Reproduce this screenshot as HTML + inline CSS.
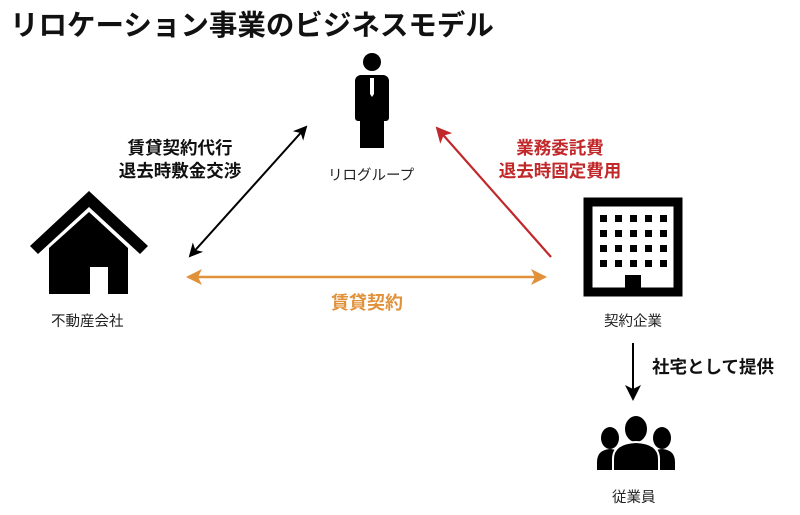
<!DOCTYPE html>
<html><head><meta charset="utf-8"><style>
html,body{margin:0;padding:0;background:#fff;}
body{width:800px;height:515px;position:relative;overflow:hidden;font-family:"Liberation Sans","Noto Sans CJK JP",sans-serif;}
.t{position:absolute;white-space:nowrap;}
</style></head><body>
<div class="t" style="left:10px;top:3px;font-size:28.5px;font-weight:bold;color:#111;">リロケーション事業のビジネスモデル</div>
<svg width="800" height="515" style="position:absolute;left:0;top:0">
<defs>
<marker id="ab" markerWidth="14" markerHeight="14" refX="12" refY="7" orient="auto" markerUnits="userSpaceOnUse"><path d="M0,0 L14,7 L0,14 L4,7z" fill="#000"/></marker>
<marker id="abs" markerWidth="14" markerHeight="14" refX="2" refY="7" orient="auto" markerUnits="userSpaceOnUse"><path d="M14,0 L0,7 L14,14 L10,7z" fill="#000"/></marker>
<marker id="ar" markerWidth="16" markerHeight="16" refX="14" refY="8" orient="auto" markerUnits="userSpaceOnUse"><path d="M0,0 L16,8 L0,16 L4,8z" fill="#c0282a"/></marker>
<marker id="ao" markerWidth="16" markerHeight="16" refX="14" refY="8" orient="auto" markerUnits="userSpaceOnUse"><path d="M0,0 L16,8 L0,16 L4,8z" fill="#e0913a"/></marker>
<marker id="aos" markerWidth="16" markerHeight="16" refX="2" refY="8" orient="auto" markerUnits="userSpaceOnUse"><path d="M16,0 L0,8 L16,16 L12,8z" fill="#e0913a"/></marker>
<marker id="ad" markerWidth="16" markerHeight="16" refX="14" refY="8" orient="auto" markerUnits="userSpaceOnUse"><path d="M0,0 L16,8 L0,16 L4,8z" fill="#000"/></marker>
</defs>
<!-- person -->
<circle cx="372" cy="62" r="9" fill="#000"/>
<path d="M361,75 h22 a6,6 0 0 1 6,6 v37 a3,3 0 0 1 -3,3 h-2 v27 h-24 v-27 h-2 a3,3 0 0 1 -3,-3 v-37 a6,6 0 0 1 6,-6z" fill="#000"/>
<path d="M370,78 h4 v16 l-2,3 l-2,-3z" fill="#fff"/>
<!-- house -->
<polygon points="89,191 148,246 140,254 89,207 38,254 30,246" fill="#000"/>
<polygon points="89,212 128,248 128,294 108,294 108,267 90,267 90,294 49,294 49,248" fill="#000"/>
<!-- building -->
<rect x="588" y="202" width="90" height="90" fill="none" stroke="#000" stroke-width="9"/>
<g fill="#000">
<rect x="600" y="215" width="7" height="7"/><rect x="615" y="215" width="7" height="7"/><rect x="630" y="215" width="7" height="7"/><rect x="645" y="215" width="7" height="7"/><rect x="660" y="215" width="7" height="7"/>
<rect x="600" y="230" width="7" height="7"/><rect x="615" y="230" width="7" height="7"/><rect x="630" y="230" width="7" height="7"/><rect x="645" y="230" width="7" height="7"/><rect x="660" y="230" width="7" height="7"/>
<rect x="600" y="245" width="7" height="7"/><rect x="615" y="245" width="7" height="7"/><rect x="630" y="245" width="7" height="7"/><rect x="645" y="245" width="7" height="7"/><rect x="660" y="245" width="7" height="7"/>
<rect x="600" y="260" width="7" height="7"/><rect x="615" y="260" width="7" height="7"/><rect x="630" y="260" width="7" height="7"/><rect x="645" y="260" width="7" height="7"/><rect x="660" y="260" width="7" height="7"/>
<rect x="625" y="275" width="16" height="15"/>
</g>
<!-- people -->
<g fill="#000">
<ellipse cx="610" cy="438" rx="9" ry="11"/><path d="M597,470 v-8 q0,-12 13,-13 q13,1 13,13 v8z"/>
<ellipse cx="662" cy="438" rx="9" ry="11"/><path d="M649,470 v-8 q0,-12 13,-13 q13,1 13,13 v8z"/>
<ellipse cx="636" cy="429" rx="12" ry="14" stroke="#fff" stroke-width="2"/><path d="M613,471 v-12 q0,-16 23,-17 q23,1 23,17 v12z" stroke="#fff" stroke-width="2"/>
</g>
<!-- arrows -->
<line x1="190" y1="256" x2="306" y2="127" stroke="#000" stroke-width="2" marker-start="url(#abs)" marker-end="url(#ab)"/>
<line x1="551" y1="257" x2="437" y2="128" stroke="#c0282a" stroke-width="2.2" marker-end="url(#ar)"/>
<line x1="188" y1="277" x2="545" y2="277" stroke="#e0913a" stroke-width="2.5" marker-start="url(#aos)" marker-end="url(#ao)"/>
<line x1="633" y1="343" x2="633" y2="399" stroke="#000" stroke-width="2" marker-end="url(#ad)"/>
</svg>
<div class="t" style="left:328px;top:164px;font-size:14.5px;color:#222;">リログループ</div>
<div class="t" style="left:51px;top:310px;font-size:14.5px;color:#222;">不動産会社</div>
<div class="t" style="left:604px;top:310px;font-size:14.5px;color:#222;">契約企業</div>
<div class="t" style="left:612px;top:486px;font-size:14.5px;color:#222;">従業員</div>
<div class="t" style="left:110px;top:137px;width:140px;text-align:center;font-size:17.5px;font-weight:bold;line-height:23px;color:#111;">賃貸契約代行<br>退去時敷金交渉</div>
<div class="t" style="left:490px;top:137px;width:140px;text-align:center;font-size:17.5px;font-weight:bold;line-height:23px;color:#c0282a;">業務委託費<br>退去時固定費用</div>
<div class="t" style="left:331px;top:289px;font-size:18px;font-weight:bold;color:#e0913a;">賃貸契約</div>
<div class="t" style="left:652px;top:354px;font-size:17.5px;font-weight:bold;color:#111;">社宅として提供</div>
</body></html>
